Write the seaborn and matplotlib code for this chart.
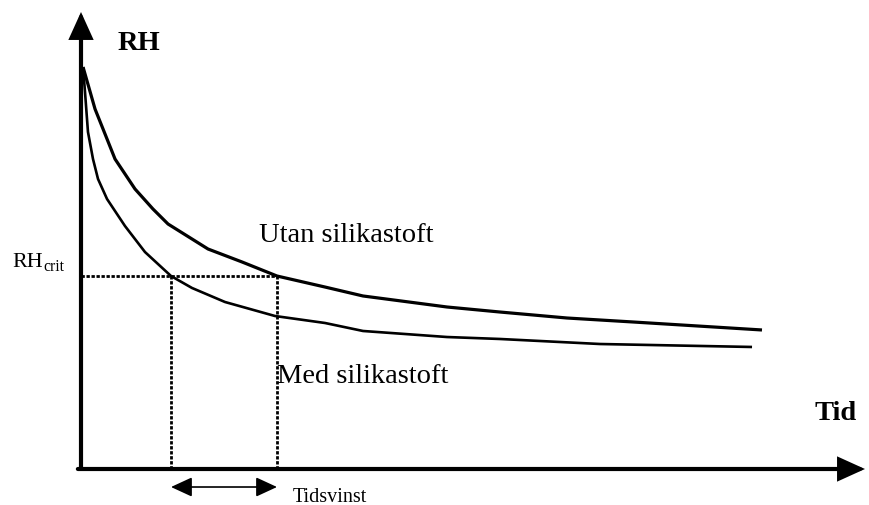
import matplotlib
matplotlib.use("Agg")
import matplotlib.pyplot as plt
import pandas as pd
import seaborn as sns

# Data (time on x, relative humidity on y, both 0-100)
tid_utan = [0.26, 1.79, 2.81, 4.34, 6.89, 9.18, 11.10, 16.20, 20.54, 25.0,
            31.12, 35.97, 46.68, 53.44, 61.99, 70.41, 86.86]
rh_utan = [87.96, 78.77, 74.40, 67.83, 61.27, 56.89, 53.61, 48.14, 45.30, 42.23,
           39.82, 37.86, 35.45, 34.35, 33.04, 32.17, 30.42]

tid_med = [0.26, 0.51, 0.89, 1.53, 2.17, 3.32, 5.61, 8.16, 11.48, 14.16,
           18.37, 24.74, 31.12, 35.97, 46.68, 53.44, 66.20, 85.59]
rh_med = [87.96, 82.49, 73.74, 67.83, 63.46, 59.08, 53.17, 47.48, 42.23, 39.61,
          36.54, 33.48, 31.95, 30.20, 28.88, 28.45, 27.35, 26.70]

rh_crit = 42.23
t_med = 11.48   # Med silikastoft reaches RHcrit
t_utan = 25.0   # Utan silikastoft reaches RHcrit

sns.set_style("white")
plt.rcParams["font.family"] = ["Liberation Serif", "DejaVu Serif"]
plt.rcParams["text.color"] = "black"

fig = plt.figure(figsize=(8.69, 5.06), dpi=100)
ax = fig.add_axes([81 / 869, 36 / 506, 784 / 869, 457 / 506])
ax.set_xlim(0, 100)
ax.set_ylim(0, 100)
ax.axis("off")

df_utan = pd.DataFrame({"tid": tid_utan, "rh": rh_utan})
df_med = pd.DataFrame({"tid": tid_med, "rh": rh_med})
sns.lineplot(data=df_utan, x="tid", y="rh", ax=ax, color="black", lw=2.3,
             sort=False, estimator=None, solid_joinstyle="round",
             solid_capstyle="butt")
sns.lineplot(data=df_med, x="tid", y="rh", ax=ax, color="black", lw=1.9,
             sort=False, estimator=None, solid_joinstyle="round",
             solid_capstyle="butt")

# dotted guide lines
dots = dict(color="black", lw=2.0, linestyle=(0, (1.2, 0.6)))
ax.plot([0, t_utan], [rh_crit, rh_crit], **dots)
ax.plot([t_med, t_med], [0, rh_crit], **dots)
ax.plot([t_utan, t_utan], [0, rh_crit], **dots)

# axes with arrow heads
axis_arrow = dict(arrowstyle="-|>,head_length=0.75,head_width=0.34", lw=3,
                  color="black", mutation_scale=20, shrinkA=0, shrinkB=0,
                  joinstyle="miter")
ax.annotate("", xy=(1, 0), xytext=(-0.004, 0), xycoords="axes fraction",
            arrowprops=axis_arrow, annotation_clip=False)
ax.annotate("", xy=(0, 1), xytext=(0, 0), xycoords="axes fraction",
            arrowprops=axis_arrow, annotation_clip=False)

# time gain arrow
ax.annotate("", xy=(t_utan, -3.94), xytext=(t_med, -3.94),
            arrowprops=dict(arrowstyle="<|-|>,head_length=0.65,head_width=0.3",
                            lw=1.2, color="black", mutation_scale=20,
                            shrinkA=0, shrinkB=0),
            annotation_clip=False)

# labels
ax.text(4.72, 91.9, "RH", fontsize=20.5, fontweight="bold", va="baseline")
ax.text(93.6, 10.94, "Tid", fontsize=20.5, fontweight="bold", va="baseline")
ax.text(22.7, 49.9, "Utan silikastoft", fontsize=20.5, va="baseline")
ax.text(25.0, 19.04, "Med silikastoft", fontsize=20.5, va="baseline")
ax.text(-8.8, 44.4, "RH", fontsize=15.8, va="baseline")
ax.text(-4.75, 43.6, "crit", fontsize=11.3, va="baseline")
ax.text(27.04, -7.0, "Tidsvinst", fontsize=14.5, va="baseline")

fig.savefig("out.png", dpi=100)
